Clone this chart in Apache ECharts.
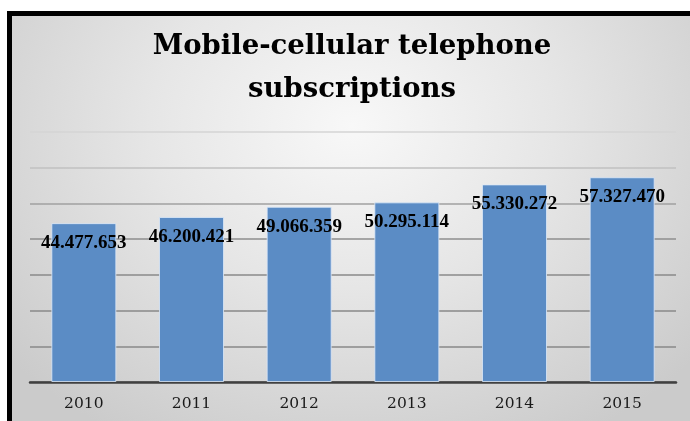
<!DOCTYPE html>
<html lang="en">
<head>
    <meta charset="UTF-8">
    <script src="https://cdn.jsdelivr.net/npm/echarts@6/dist/echarts.min.js"></script>
    <title>Mobile-cellular telephone subscriptions</title>
    <style>
        body { margin: 0; background: #fff; overflow: hidden; }
        #frame {
            position: absolute; left: 7px; top: 11px; width: 700px; height: 430px;
            border-left: 5px solid #000; border-top: 5px solid #000;
            background: radial-gradient(ellipse 450px 360px at 340px 110px, #f8f8f8 0%, #e6e6e6 45%, #cbcbcb 100%);
        }
        #main { position: absolute; left: 0; top: 0; width: 690px; height: 421px; }
    </style>
</head>
<body>
<div id="frame"></div>
<div id="main"></div>
<script>
    var years = ['2010', '2011', '2012', '2013', '2014', '2015'];
    var subscriptions = [44477653, 46200421, 49066359, 50295114, 55330272, 57327470];

    // 44477653 -> 44.477.653
    function dots(v) {
        return String(v).replace(/\B(?=(\d{3})+(?!\d))/g, '.');
    }

    var myChart = echarts.init(document.getElementById('main'));
    var option = {
        title: {
            text: 'Mobile-cellular telephone\nsubscriptions',
            left: 352,
            top: 25,
            padding: 0,
            textAlign: 'center',
            textStyle: {
                fontFamily: 'DejaVu Serif',
                fontWeight: 'bold',
                fontSize: 27.5,
                lineHeight: 43,
                color: '#000'
            }
        },
        grid: { left: 30, right: 14, top: 132, bottom: 39 },
        xAxis: {
            type: 'category',
            data: years,
            axisTick: { show: false },
            axisLine: { lineStyle: { color: '#404040', width: 2.5 } },
            axisLabel: {
                margin: 14,
                fontFamily: 'DejaVu Serif',
                fontSize: 15.5,
                color: '#1a1a1a'
            }
        },
        yAxis: {
            type: 'value',
            min: 0,
            max: 70000000,
            interval: 10000000,
            axisLabel: { show: false },
            axisLine: { show: false },
            axisTick: { show: false },
            splitLine: {
                lineStyle: {
                    width: 1.5,
                    color: ['#888', '#888', '#888', '#8a8a8a', '#8e8e8e', '#a0a0a0', '#c0c0c0', '#d4d4d4']
                }
            }
        },
        series: [{
            type: 'bar',
            data: subscriptions,
            barWidth: 65,
            itemStyle: {
                color: '#5b8cc5',
                borderColor: 'rgba(220,232,248,0.8)',
                borderWidth: 1
            },
            label: {
                show: true,
                position: 'insideTop',
                distance: 10,
                formatter: function (p) { return dots(p.value); },
                fontFamily: 'Liberation Serif',
                fontWeight: 'bold',
                fontSize: 19,
                lineHeight: 20,
                color: '#000'
            }
        }]
    };
    myChart.setOption(option);
</script>
</body>
</html>
